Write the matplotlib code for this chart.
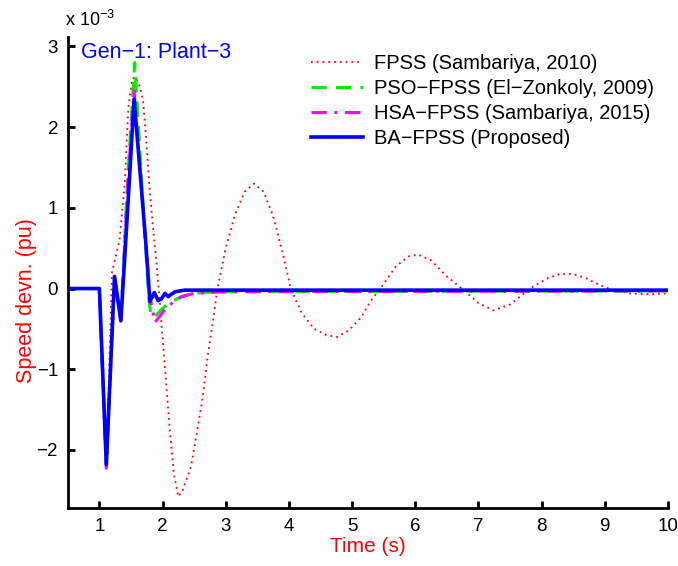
import matplotlib
matplotlib.use("Agg")
import matplotlib.pyplot as plt

plt.rcParams['font.family'] = ['Liberation Sans', 'DejaVu Sans']

# speed deviation values, in units of 1e-3 pu
t_fpss = [0.5, 1.0, 1.11, 1.18, 1.2, 1.32, 1.4, 1.46, 1.52, 1.58, 1.64, 1.69, 1.74, 1.79,
          1.85, 1.9, 1.95, 2.03, 2.11, 2.18, 2.25, 2.32, 2.45, 2.56, 2.64, 2.72, 2.8,
          2.87, 3.0, 3.15, 3.3, 3.45, 3.6, 3.75, 3.9, 4.03, 4.2, 4.4, 4.6, 4.76, 4.95,
          5.15, 5.3, 5.45, 5.7, 5.9, 6.05, 6.25, 6.5, 6.74, 7.0, 7.24, 7.5, 7.82, 8.1,
          8.3, 8.49, 8.7, 8.9, 9.13, 9.4, 9.7, 10.0]
v_fpss = [0, 0, -2.25, -0.3, 0.2, 0.6, 1.29, 2.25, 2.6, 2.62, 2.5, 2.34, 1.87, 1.29,
          0.75, 0.35, -0.1, -0.9, -1.7, -2.3, -2.58, -2.5, -2.21, -1.71, -1.33, -0.81, -0.4,
          0.0, 0.5, 0.92, 1.2, 1.3, 1.2, 0.9, 0.45, 0.0, -0.3, -0.5, -0.58, -0.6, -0.52,
          -0.35, -0.15, 0.0, 0.28, 0.4, 0.42, 0.35, 0.15, 0.0, -0.18, -0.27, -0.2, 0.0, 0.13,
          0.18, 0.18, 0.13, 0.05, -0.02, -0.06, -0.07, -0.06]

t_pso = [0.5, 1.0, 1.11, 1.24, 1.34, 1.45, 1.56, 1.68, 1.78, 1.82, 1.9, 2.0, 2.1, 2.25,
         2.4, 2.6, 3.0, 10.0]
v_pso = [0, 0, -2.2, 0.12, -0.38, 1.4, 2.8, 1.2, -0.1, -0.35, -0.33, -0.25, -0.18, -0.12,
         -0.08, -0.05, -0.04, -0.03]

t_hsa = [0.5, 1.0, 1.11, 1.24, 1.34, 1.45, 1.55, 1.67, 1.8, 1.88, 1.95, 2.05, 2.15, 2.3,
         2.5, 3.0, 10.0]
v_hsa = [0, 0, -2.22, 0.13, -0.4, 1.3, 2.45, 1.2, -0.1, -0.42, -0.35, -0.25, -0.18, -0.1,
         -0.06, -0.04, -0.03]

t_ba = [0.5, 1.0, 1.11, 1.24, 1.34, 1.43, 1.55, 1.73, 1.8, 1.87, 1.93, 1.98, 2.04, 2.09,
        2.14, 2.2, 2.35, 2.6, 10.0]
v_ba = [0, 0, -2.18, 0.15, -0.4, 0.75, 2.35, 0.62, -0.16, -0.05, -0.15, -0.13, -0.06, -0.1,
        -0.07, -0.04, -0.02, -0.02, -0.02]

labels = ['FPSS (Sambariya, 2010)', 'PSO\u2212FPSS (El\u2212Zonkoly, 2009)',
          'HSA\u2212FPSS (Sambariya, 2015)', 'BA\u2212FPSS (Proposed)']

fig = plt.figure(figsize=(6.78, 5.66), dpi=100)
ax = fig.add_axes([0.100, 0.1025, 0.885, 0.8325])

ax.plot(t_fpss, v_fpss, color='red', lw=1.3, linestyle=(0, (1, 2.2)), label=labels[0])
ax.plot(t_pso, v_pso, color='#00ee00', lw=2.2, linestyle=(0, (5, 3)), label=labels[1])
ax.plot(t_hsa, v_hsa, color='magenta', lw=2.2, linestyle=(0, (5, 2.5, 1, 2.5)), label=labels[2])
ax.plot(t_ba, v_ba, color='blue', lw=2.6, label=labels[3])

ax.set_xlim(0.5, 10)
ax.set_ylim(-2.72, 3.12)
ax.set_xticks(range(1, 11))
ax.set_yticks([-2, -1, 0, 1, 2, 3])
ax.spines['top'].set_visible(False)
ax.spines['right'].set_visible(False)
ax.spines['left'].set_linewidth(2)
ax.spines['bottom'].set_linewidth(2)
ax.tick_params(direction='in', length=5, width=2, labelsize=13.5, pad=7)

ax.set_xlabel('Time (s)', color='red', fontsize=15, labelpad=2)
ax.set_ylabel('Speed devn. (pu)', color='red', fontsize=15.5)
ax.yaxis.set_label_coords(-0.052, 0.44)

ax.text(-0.005, 1.015, 'x 10$^{\\mathregular{\u22123}}$', transform=ax.transAxes,
        fontsize=13, ha='left', va='bottom')
ax.text(0.022, 0.99, 'Gen\u22121: Plant\u22123', transform=ax.transAxes,
        color='blue', fontsize=15.5, ha='left', va='top')

fig.legend(loc='upper left', bbox_to_anchor=(0.458, 0.905), frameon=False,
           fontsize=14.5, handlelength=2.6, handletextpad=0.55, labelspacing=0.3,
           borderpad=0, borderaxespad=0)

fig.savefig('out.png', dpi=100)
